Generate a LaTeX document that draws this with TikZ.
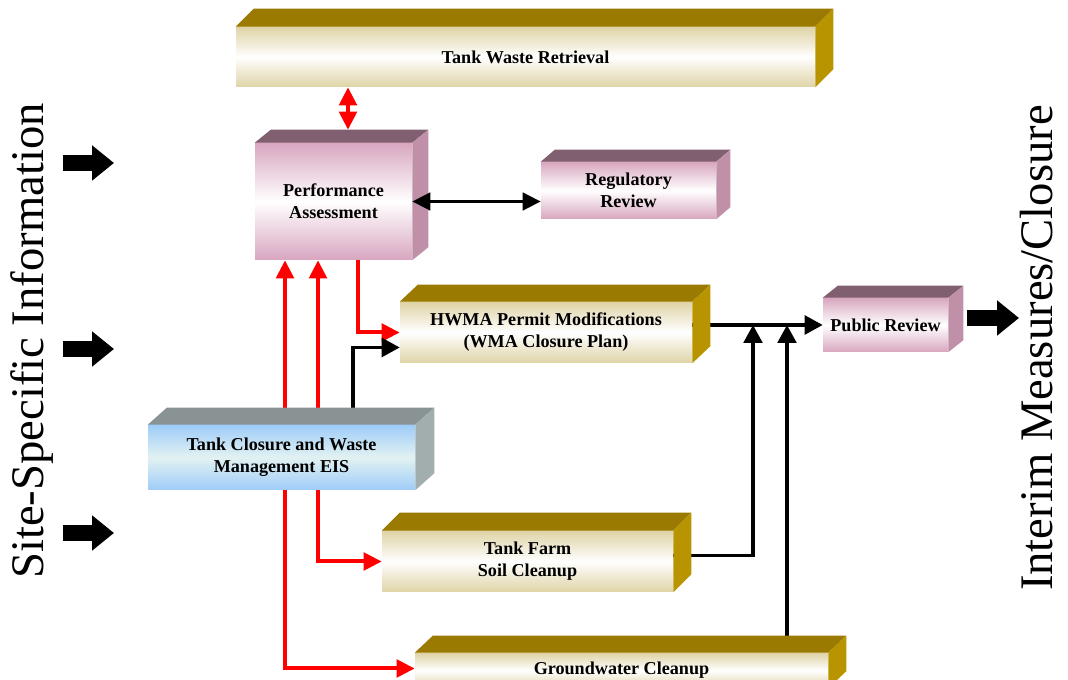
\documentclass[tikz,border=0pt]{standalone}
\usepackage{fontspec}
\setmainfont{Liberation Serif}
\usetikzlibrary{backgrounds,arrows.meta,calc}

\definecolor{goldtop}{HTML}{9A7A00}
\definecolor{goldside}{HTML}{B89400}
\definecolor{goldedge}{HTML}{DFD3A6}
\definecolor{pinktop}{HTML}{806070}
\definecolor{pinkside}{HTML}{C090A8}
\definecolor{pinkedge}{HTML}{D8A6C0}
\definecolor{bluetop}{HTML}{8A9393}
\definecolor{blueside}{HTML}{A2AEAE}
\definecolor{blueedge}{HTML}{9ECCF8}
\definecolor{bluemid}{HTML}{E2F2F2}
\definecolor{arrred}{HTML}{FF0000}

\tikzset{
  boxtext/.style={font=\fontsize{13.6}{16.5}\selectfont\bfseries, align=center, inner sep=0pt},
  goldbox/.style={boxtext, top color=goldedge, bottom color=goldedge, middle color=white},
  pinkbox/.style={boxtext, top color=pinkedge, bottom color=pinkedge, middle color=white},
  bluebox/.style={boxtext, top color=blueedge, bottom color=blueedge, middle color=bluemid},
  redarr/.style={draw=arrred, line width=3pt, -{Triangle[length=13.5pt,width=13pt]}},
  redarr2/.style={draw=arrred, line width=3pt, {Triangle[length=13.5pt,width=13pt]}-{Triangle[length=13.5pt,width=13pt]}},
  blkarr/.style={draw=black, line width=2.6pt, -{Triangle[length=13.5pt,width=14pt]}},
  blkarr2/.style={draw=black, line width=2.6pt, {Triangle[length=13.5pt,width=13pt]}-{Triangle[length=13.5pt,width=13pt]}},
  bigarr/.style={draw=black, line width=12.5pt, -{Triangle[length=16.5pt,width=25.5pt]}},
  sidelabel/.style={rotate=90, font=\fontsize{35}{35}\selectfont, inner sep=0pt},
}

% name, x1, y1, x2, y2, dx, dy, family, text
\newcommand{\tdbox}[9]{%
  \path let \p1=(#2,#3), \p2=(#4,#5) in
    node[#8box, minimum width={abs(\x2-\x1)}, minimum height={abs(\y2-\y1)}]
      (#1) at ($(\p1)!0.5!(\p2)$) {#9};
  \fill[#8top] (#1.north west) -- ++(#6,#7) -- ($(#1.north east)+(#6,#7)$) -- (#1.north east) -- cycle;
  \fill[#8side] (#1.north east) -- ++(#6,#7) -- ($(#1.south east)+(#6,#7)$) -- (#1.south east) -- cycle;
  \coordinate (#1-tb) at ($(#1.north)+(#6,#7)$);
}

\begin{document}
\begin{tikzpicture}[x=0.75pt, y=-0.75pt]
\useasboundingbox (0,0) rectangle (1068,680);
\clip (0,0) rectangle (1068,680);

% boxes
\tdbox{twr}{236}{27}{815}{87}{18}{-18}{gold}{Tank Waste Retrieval}
\tdbox{pa}{255}{143}{412}{260}{16}{-13}{pink}{Performance\\Assessment}
\tdbox{rr}{541}{162}{716}{219}{14}{-12}{pink}{Regulatory\\Review}
\tdbox{hwma}{400}{302}{692}{363}{18}{-17}{gold}{HWMA Permit Modifications\\(WMA Closure Plan)}
\tdbox{pr}{823}{298}{948}{352}{15}{-12}{pink}{Public Review}
\tdbox{eis}{148}{425}{415}{490}{19}{-17}{blue}{Tank Closure and Waste\\Management EIS}
\tdbox{tf}{382}{531}{673}{592}{18}{-18}{gold}{Tank Farm\\Soil Cleanup}
\tdbox{gw}{415}{653}{828}{688}{18}{-17}{gold}{Groundwater Cleanup}

% connectors behind boxes
\begin{pgfonlayer}{background}
  \draw[redarr2] (348,0 |- twr.south) -- (348,0 |- pa-tb);
  \draw[redarr] (285,0 |- eis.center) -- (285,0 |- pa.south);
  \draw[redarr] (318,0 |- eis.center) -- (318,0 |- pa.south);
  \draw[redarr] (358,0 |- pa.south) |- (hwma.west);
  \draw[blkarr] (353,0 |- eis.center) |- ($(hwma.west)+(0,15)$);
  \draw[redarr] (318,0 |- eis.center) |- (tf.west);
  \draw[redarr] (285,0 |- eis.center) |- ($(gw.west)+(0,-2)$);
  \draw[blkarr] (hwma.center |- pr.west) -- (pr.west);
  \draw[blkarr] ($(tf.center)+(0,-6)$) -| (753,0 |- pr.west);
  \draw[blkarr] (787,0 |- gw.center) -- (787,0 |- pr.west);
\end{pgfonlayer}

\draw[blkarr2] (pa.east) -- (rr.west |- pa.east);

% side labels and big arrows
\node[sidelabel] (ssi) at (32,341) {Site-Specific Information};
\node[sidelabel] (imc) at (1037,348) {Interim Measures/Closure};

\coordinate (la1) at (63,163);  \coordinate (lb1) at (114,163);
\coordinate (la2) at (63,349);  \coordinate (lb2) at (114,349);
\coordinate (la3) at (63,533);  \coordinate (lb3) at (114,533);
\coordinate (ra) at (967,318);  \coordinate (rb) at (1019,318);
\draw[bigarr] (la1) -- (lb1);
\draw[bigarr] (la2) -- (lb2);
\draw[bigarr] (la3) -- (lb3);
\draw[bigarr] (ra) -- (rb);
\end{tikzpicture}
\end{document}
